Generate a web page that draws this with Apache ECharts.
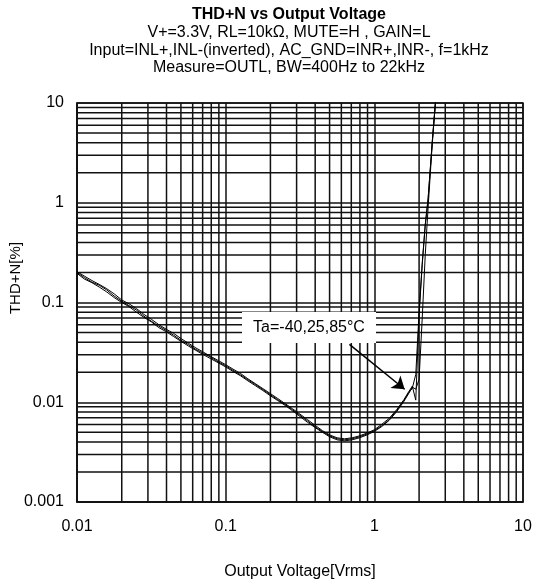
<!DOCTYPE html>
<html>
<head>
<meta charset="utf-8">
<script src="https://cdn.jsdelivr.net/npm/echarts@6/dist/echarts.min.js"></script>
<style>
html,body{margin:0;padding:0;background:#fff;}
#chart{width:536px;height:585px;}
</style>
</head>
<body>
<div id="chart"></div>
<script>
// ---- data ----
const titleText = 'THD+N vs Output Voltage';
const subtitleLines = [
  'V+=3.3V, RL=10kΩ, MUTE=H , GAIN=L',
  'Input=INL+,INL-(inverted), AC_GND=INR+,INR-, f=1kHz',
  'Measure=OUTL, BW=400Hz to 22kHz'
];
const xAxisName = 'Output Voltage[Vrms]';
const yAxisName = 'THD+N[%]';
const annotationText = 'Ta=-40,25,85°C';

const voltage = [0.01,0.0112,0.0126,0.0141,0.0158,0.0178,0.02,0.0224,0.0251,0.0282,0.0316,0.0355,0.0398,0.0447,0.0501,0.0562,0.0631,0.0708,0.0794,0.0891,0.1,0.112,0.126,0.141,0.158,0.178,0.2,0.224,0.251,0.282,0.316,0.355,0.398,0.447,0.501,0.562,0.631,0.708,0.794,0.891,1.0,1.12,1.26,1.41,1.58,1.7,1.8,1.9,2.0,2.1,2.2,2.3,2.45,2.6];

const thd25 = [0.200,0.178,0.160,0.149,0.134,0.116,0.103,0.093,0.084,0.073,0.065,0.058,0.0525,0.047,0.0418,0.0378,0.0338,0.031,0.0282,0.0254,0.0232,0.0209,0.0188,0.0168,0.0151,0.0134,0.0119,0.0106,0.0095,0.0084,0.0074,0.0065,0.0057,0.0051,0.0046,0.0043,0.0042,0.0043,0.0045,0.0048,0.0052,0.0058,0.0067,0.0082,0.0104,0.0124,0.0138,0.019,0.08,0.25,0.6,1.1,4,12];

const thdM40 = [0.196,0.172,0.158,0.143,0.128,0.112,0.100,0.091,0.080,0.071,0.064,0.056,0.051,0.0455,0.0408,0.0366,0.0331,0.0300,0.0273,0.0249,0.0226,0.0204,0.0184,0.0164,0.0147,0.0131,0.0116,0.0104,0.0093,0.0082,0.0072,0.0063,0.0056,0.0050,0.0045,0.0042,0.0041,0.0042,0.0044,0.0047,0.0051,0.0057,0.0066,0.0080,0.0102,0.0122,0.0142,0.0135,0.017,0.07,0.3,0.9,3.8,12];

const thd85 = [0.204,0.184,0.166,0.152,0.138,0.122,0.106,0.097,0.087,0.076,0.068,0.060,0.054,0.049,0.0435,0.039,0.0350,0.0318,0.0288,0.0262,0.0238,0.0215,0.0194,0.0172,0.0154,0.0137,0.0122,0.0109,0.0097,0.0086,0.0076,0.0067,0.0059,0.0052,0.0047,0.0044,0.0043,0.0044,0.0046,0.0049,0.0053,0.0060,0.0069,0.0084,0.0106,0.0127,0.0145,0.0105,0.075,0.24,0.6,1.1,4,12];

const xTicks = [0.01, 0.1, 1, 10];
const yTicks = [0.001, 0.01, 0.1, 1, 10];
const xMinorGrid = [0.02,0.03,0.04,0.05,0.06,0.07,0.08,0.09,0.2,0.3,0.4,0.5,0.6,0.7,0.8,0.9,2,3,4,5,6,7,8,9];
const yMinorGrid = [0.002,0.003,0.004,0.005,0.006,0.007,0.008,0.009,0.02,0.03,0.04,0.05,0.06,0.07,0.08,0.09,0.2,0.3,0.4,0.5,0.6,0.7,0.8,0.9,2,3,4,5,6,7,8,9];
const arrowFrom = [0.68, 0.038];
const arrowTo = [1.6, 0.0135];

// ---- chart ----
const FONT = '"Liberation Sans", Arial, sans-serif';
const chart = echarts.init(document.getElementById('chart'), null, {renderer: 'canvas'});
const GRID_COLOR = '#111';
const GRID_W = 1.5;
const X_MIN = 0.01, X_MAX = 10, Y_MIN = 0.001, Y_MAX = 10;

function pair(xs, ys) { return xs.map((x, i) => [x, ys[i]]); }

function curve(name, ys) {
  return {
    name, type: 'line', data: pair(voltage, ys), showSymbol: false, symbol: 'none',
    lineStyle: {color: '#000', width: 1}, itemStyle: {color: '#000'}, clip: true, z: 5, silent: true
  };
}

// minor grid lines drawn through the axes' scales
const minorGridData = xMinorGrid.map(v => [0, v]).concat(yMinorGrid.map(v => [1, v]));

const option = {
  animation: false,
  backgroundColor: '#fff',
  grid: {left: 77, top: 103, width: 446, height: 400, show: true, borderColor: GRID_COLOR, borderWidth: GRID_W, containLabel: false},
  xAxis: {
    type: 'log', logBase: 10, min: X_MIN, max: X_MAX,
    name: xAxisName, nameLocation: 'middle', nameGap: 62,
    nameTextStyle: {fontFamily: FONT, fontSize: 16, color: '#000'},
    axisLine: {show: true, lineStyle: {color: GRID_COLOR, width: GRID_W}},
    axisTick: {show: false},
    axisLabel: {fontFamily: FONT, fontSize: 16, color: '#000', margin: 17,
      formatter: v => { const t = xTicks.find(k => Math.abs(Math.log10(k) - Math.log10(v)) < 1e-6); return t === undefined ? '' : String(t); }},
    splitLine: {show: true, lineStyle: {color: GRID_COLOR, width: GRID_W}}
  },
  yAxis: {
    type: 'log', logBase: 10, min: Y_MIN, max: Y_MAX,
    axisLine: {show: true, lineStyle: {color: GRID_COLOR, width: GRID_W}},
    axisTick: {show: false},
    axisLabel: {fontFamily: FONT, fontSize: 16, color: '#000', margin: 13,
      formatter: v => { const t = yTicks.find(k => Math.abs(Math.log10(k) - Math.log10(v)) < 1e-6); return t === undefined ? '' : String(t); }},
    splitLine: {show: true, lineStyle: {color: GRID_COLOR, width: GRID_W}}
  },
  graphic: [
    {type: 'text', x: 289, y: 15, z: 100, style: {text: titleText, font: 'bold 16px ' + FONT, fill: '#000', textAlign: 'center', textVerticalAlign: 'middle'}},
    {type: 'text', x: 289, y: 33, z: 100, style: {text: subtitleLines[0], font: '16px ' + FONT, fill: '#000', textAlign: 'center', textVerticalAlign: 'middle'}},
    {type: 'text', x: 289, y: 50.5, z: 100, style: {text: subtitleLines[1], font: '16px ' + FONT, fill: '#000', textAlign: 'center', textVerticalAlign: 'middle'}},
    {type: 'text', x: 289, y: 68, z: 100, style: {text: subtitleLines[2], font: '16px ' + FONT, fill: '#000', textAlign: 'center', textVerticalAlign: 'middle'}},
    {type: 'text', x: 16, y: 278, rotation: Math.PI / 2, z: 100, style: {text: yAxisName, font: '15px ' + FONT, fill: '#000', textAlign: 'center', textVerticalAlign: 'middle'}},
    {type: 'rect', shape: {x: 242, y: 312, width: 134, height: 31}, z: 90, style: {fill: '#fff'}},
    {type: 'text', x: 309, y: 328, z: 100, style: {text: annotationText, font: '16px ' + FONT, fill: '#000', textAlign: 'center', textVerticalAlign: 'middle'}}
  ],
  series: [
    {
      type: 'custom', silent: true, z: 2, clip: true,
      data: minorGridData,
      encode: {x: -1, y: -1},
      renderItem: function (params, api) {
        const dir = api.value(0), v = api.value(1);
        let p1, p2;
        if (dir === 0) { p1 = api.coord([v, Y_MIN]); p2 = api.coord([v, Y_MAX]); }
        else { p1 = api.coord([X_MIN, v]); p2 = api.coord([X_MAX, v]); }
        return {
          type: 'line',
          shape: {x1: p1[0], y1: p1[1], x2: p2[0], y2: p2[1]},
          style: {stroke: GRID_COLOR, lineWidth: GRID_W}
        };
      }
    },
    curve('-40°C', thdM40),
    curve('25°C', thd25),
    curve('85°C', thd85),
    {
      type: 'line', data: [], silent: true, z: 6,
      markLine: {
        silent: true, animation: false, symbol: ['none', 'arrow'], symbolSize: 12,
        label: {show: false},
        lineStyle: {color: '#000', width: 1.5, type: 'solid'},
        data: [[{coord: arrowFrom}, {coord: arrowTo}]]
      }
    }
  ]
};
chart.setOption(option);
</script>
</body>
</html>
